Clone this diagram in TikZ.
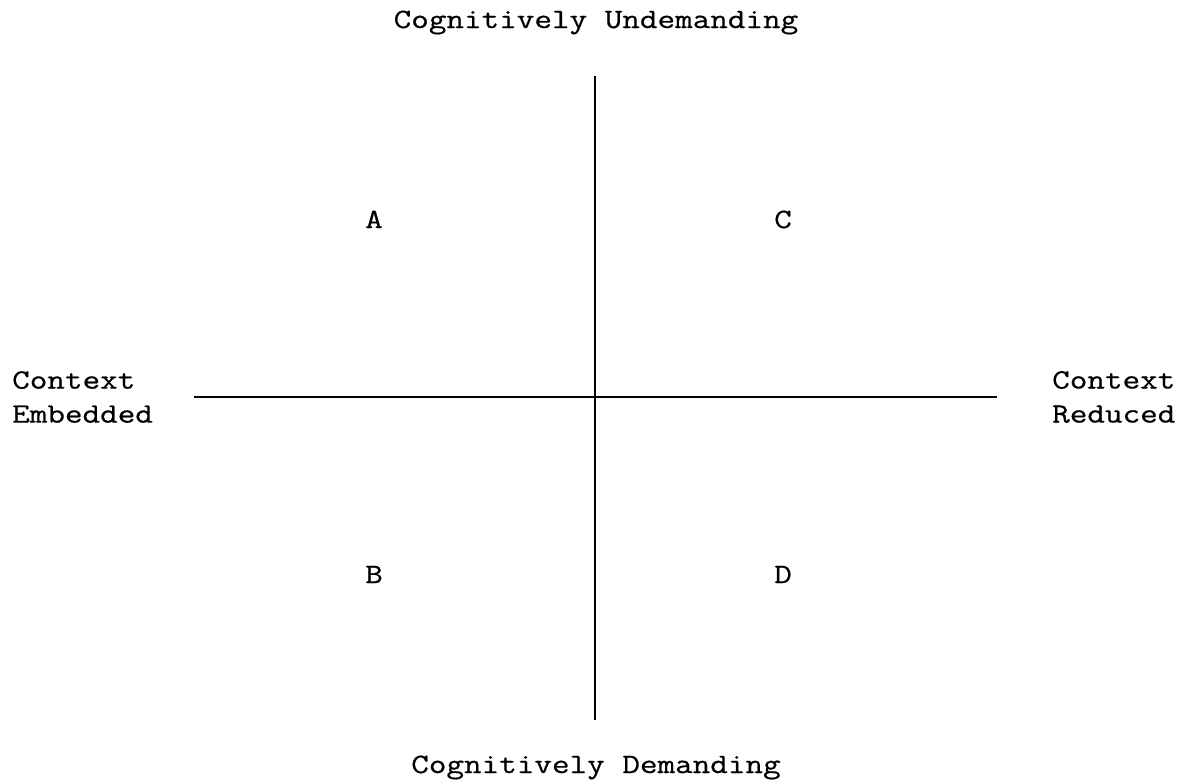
\documentclass[tikz,border=0pt]{standalone}
\usepackage{fontspec}
\newfontfamily\typewriter[FakeStretch=1.22,FakeBold=0.6]{Latin Modern Mono}
\usepackage{tikz}
\usetikzlibrary{positioning}

\begin{document}
\begin{tikzpicture}[
  x=1pt,y=-1pt,
  label/.style={inner sep=0pt,font=\typewriter\fontsize{28}{34}\selectfont},
  sidelabel/.style={label,align=left,anchor=west},
  quadrant/.style={label,anchor=base},
  axis/.style={draw=black,line width=1.6pt}
]
  \useasboundingbox (0,0) rectangle (1184,782);

  % axes ends
  \coordinate (top) at (595,76);
  \coordinate (bottom) at (595,720);
  \coordinate (left) at (194,397);
  \coordinate (right) at (997,397);

  \node[label,anchor=base] (undemanding) at (596,28) {Cognitively Undemanding};
  \node[label,anchor=base] (demanding) at (596,773) {Cognitively Demanding};
  \node[sidelabel] (embedded) at (12,397) {Context\\Embedded};
  \node[sidelabel] (reduced) at (1052,397) {Context\\Reduced};

  \node[quadrant] (qa) at (374,228) {A};
  \node[quadrant] (qc) at (783,228) {C};
  \node[quadrant] (qb) at (374,583) {B};
  \node[quadrant] (qd) at (783,583) {D};

  \draw[axis] (top) -- (bottom);
  \draw[axis] (left) -- (right);
\end{tikzpicture}
\end{document}
